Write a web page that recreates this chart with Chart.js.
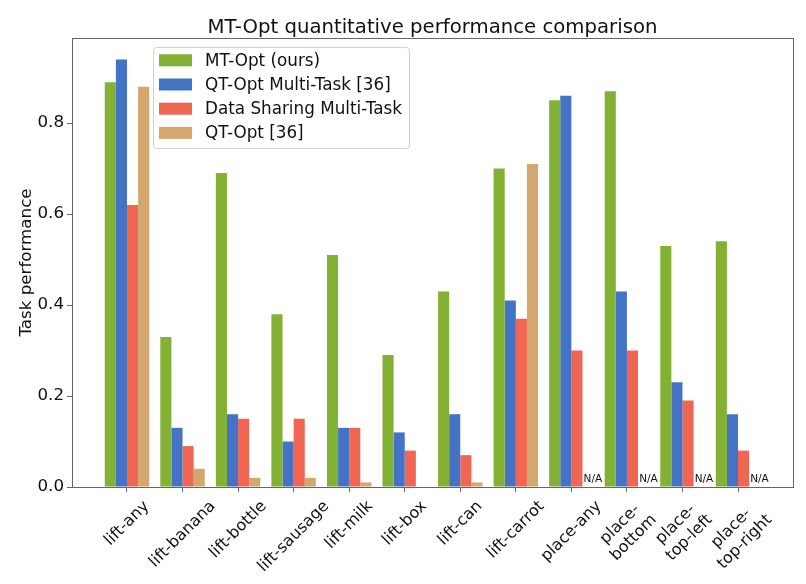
<!DOCTYPE html>
<html>
<head>
<meta charset="utf-8">
<script src="https://cdn.jsdelivr.net/npm/chart.js@4.4.0/dist/chart.umd.min.js"></script>
<style>
html,body{margin:0;padding:0;background:#fff;}
#wrap{width:806px;height:584px;}
</style>
</head>
<body>
<div id="wrap"><canvas id="c" width="806" height="584"></canvas></div>
<script>
// ---- data ----
const categories = ['lift-any','lift-banana','lift-bottle','lift-sausage','lift-milk','lift-box','lift-can','lift-carrot','place-any','place-\nbottom','place-\ntop-left','place-\ntop-right'];
const seriesNames = ['MT-Opt (ours)','QT-Opt Multi-Task [36]','Data Sharing Multi-Task','QT-Opt [36]'];
const mtOpt       = [0.89,0.33,0.69,0.38,0.51,0.29,0.43,0.70,0.85,0.87,0.53,0.54];
const qtOptMulti  = [0.94,0.13,0.16,0.10,0.13,0.12,0.16,0.41,0.86,0.43,0.23,0.16];
const dataSharing = [0.62,0.09,0.15,0.15,0.13,0.08,0.07,0.37,0.30,0.30,0.19,0.08];
const qtOpt       = [0.88,0.04,0.02,0.02,0.01,0.00,0.01,0.71,null,null,null,null];
const yTicks = [0,0.2,0.4,0.6,0.8];
const naText = 'N/A';
const titleText = 'MT-Opt quantitative performance comparison';
const yTitle = 'Task performance';

// ---- styles ----
const FONT = "'DejaVu Sans', sans-serif";
const seriesColors = ['#83b133','#4472c4','#f06652','#d4a76f'];
const spineColor = '#666';
const textColor = '#111';

const allSeries = [mtOpt, qtOptMulti, dataSharing, qtOpt];
const datasets = allSeries.map((arr, k) => ({
  label: seriesNames[k],
  data: arr.map((v, i) => ({x: i, y: v})),
  backgroundColor: seriesColors[k],
  borderWidth: 0,
  categoryPercentage: 0.8,
  barPercentage: 1.0
}));

const extras = {
  id: 'extras',
  afterDraw(chart) {
    const ctx = chart.ctx;
    const xs = chart.scales.x, ys = chart.scales.y;
    const a = chart.chartArea;
    ctx.save();
    // frame
    ctx.strokeStyle = spineColor;
    ctx.lineWidth = 1;
    ctx.strokeRect(Math.round(a.left)+0.5, Math.round(a.top)+0.5, Math.round(a.right-a.left), Math.round(a.bottom-a.top));

    // title centered over the plot area
    ctx.fillStyle = textColor;
    ctx.font = "19.7px " + FONT;
    ctx.textAlign = 'center';
    ctx.textBaseline = 'alphabetic';
    ctx.fillText(titleText, (a.left + a.right) / 2, 33);

    // N/A labels
    ctx.font = "10.5px " + FONT;
    ctx.textAlign = 'left';
    qtOpt.forEach((v, i) => {
      if (v === null) {
        ctx.fillText(naText, xs.getPixelForValue(i + 0.22), ys.getPixelForValue(0) - 5);
      }
    });

    // x tick labels (rotated 45deg, centered on tick)
    const fs = 16;
    ctx.font = fs + "px " + FONT;
    ctx.textAlign = 'center';
    ctx.textBaseline = 'middle';
    const lh = fs * 1.2;
    const top = a.bottom + 10;
    categories.forEach((lab, i) => {
      const lines = lab.split('\n');
      const W = Math.max(...lines.map(l => ctx.measureText(l).width));
      const H = lines.length * lh;
      const side = (W + H) / Math.SQRT2;
      const cx = xs.getPixelForValue(i);
      const cy = top + side / 2;
      ctx.save();
      ctx.translate(cx, cy);
      ctx.rotate(-Math.PI / 4);
      lines.forEach((l, j) => {
        ctx.fillText(l, 0, (j - (lines.length - 1) / 2) * lh);
      });
      ctx.restore();
    });

    // legend
    const lx = 153, ly = 47, lw = 256, lhh = 101;
    ctx.beginPath();
    ctx.roundRect(lx + 0.5, ly + 0.5, lw, lhh, 3);
    ctx.fillStyle = 'rgba(255,255,255,0.8)';
    ctx.fill();
    ctx.strokeStyle = '#d0d0d0';
    ctx.stroke();
    ctx.font = "16.8px " + FONT;
    ctx.textAlign = 'left';
    ctx.textBaseline = 'middle';
    chart.data.datasets.forEach((ds, k) => {
      const yc = 60.3 + k * 24.2;
      ctx.fillStyle = ds.backgroundColor;
      ctx.fillRect(159, yc - 6, 33, 12);
      ctx.fillStyle = textColor;
      ctx.fillText(ds.label, 205, yc + 1);
    });
    ctx.restore();
  }
};

new Chart(document.getElementById('c'), {
  type: 'bar',
  data: { datasets },
  options: {
    responsive: false,
    animation: false,
    layout: { padding: { left: 0, right: 13, top: 38, bottom: 0 } },
    plugins: {
      legend: { display: false },
      tooltip: { enabled: false },
      title: { display: false }
    },
    scales: {
      x: {
        type: 'linear',
        min: -0.99,
        max: 11.99,
        offset: false,
        grid: { display: true, offset: false, drawOnChartArea: false, drawTicks: true, tickLength: 5, tickColor: spineColor },
        border: { display: true, color: spineColor, width: 1 },
        ticks: { display: false },
        afterBuildTicks: (s) => { s.ticks = categories.map((c, i) => ({ value: i })); },
        afterFit: (s) => { s.height = 97; }
      },
      y: {
        type: 'linear',
        min: 0,
        max: 0.987,
        grid: { display: true, drawOnChartArea: false, drawTicks: true, tickLength: 5, tickColor: spineColor },
        border: { display: true, color: spineColor, width: 1 },
        ticks: {
          color: textColor,
          padding: 3,
          font: { family: FONT, size: 16.7 },
          callback: (v) => Number(v).toFixed(1)
        },
        afterBuildTicks: (s) => { s.ticks = yTicks.map(v => ({ value: v })); },
        title: {
          display: true,
          text: yTitle,
          color: textColor,
          font: { family: FONT, size: 16.7, lineHeight: 1.2 },
          padding: { top: 17, bottom: 0 }
        },
        afterFit: (s) => { s.width = 72; }
      }
    }
  },
  plugins: [extras]
});
</script>
</body>
</html>
